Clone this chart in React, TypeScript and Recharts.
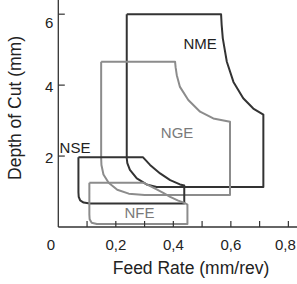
import { LineChart, Line, XAxis, YAxis, ReferenceDot } from 'recharts';

// outline vertices for each grade region (feed mm/rev, depth mm)
const nmeX = [0.238, 0.566, 0.568, 0.572, 0.586, 0.609, 0.643, 0.678, 0.713, 0.713, 0.342, 0.307, 0.273, 0.249, 0.240, 0.238, 0.238];
const nmeY = [6.0, 6.0, 5.7, 5.32, 4.66, 4.09, 3.63, 3.34, 3.17, 1.13, 1.13, 1.2, 1.37, 1.61, 1.8, 1.94, 6.0];

const ngeX = [0.149, 0.406, 0.408, 0.412, 0.423, 0.452, 0.493, 0.539, 0.597, 0.597, 0.3, 0.245, 0.205, 0.175, 0.157, 0.15, 0.149, 0.149];
const ngeY = [4.66, 4.66, 4.5, 4.28, 3.95, 3.58, 3.25, 3.06, 2.97, 0.9, 0.9, 0.94, 1.05, 1.25, 1.48, 1.75, 1.95, 4.66];

const nseX = [0.07, 0.294, 0.319, 0.354, 0.389, 0.423, 0.438, 0.438, 0.11, 0.088, 0.076, 0.071, 0.07, 0.07];
const nseY = [1.97, 1.97, 1.75, 1.51, 1.32, 1.2, 1.17, 0.66, 0.66, 0.69, 0.75, 0.85, 0.98, 1.97];

const nfeX = [0.108, 0.296, 0.318, 0.342, 0.365, 0.389, 0.415, 0.441, 0.449, 0.449, 0.134, 0.116, 0.109, 0.108, 0.108];
const nfeY = [1.25, 1.25, 1.16, 1.06, 0.96, 0.85, 0.75, 0.67, 0.63, 0.085, 0.085, 0.12, 0.22, 0.35, 1.25];

const regionNames = ['NME', 'NGE', 'NSE', 'NFE'];
const labelX = [0.493, 0.413, 0.058, 0.282];
const labelY = [5.18, 2.65, 2.25, 0.41];

const xTicks = [0, 0.1, 0.2, 0.3, 0.4, 0.5, 0.6, 0.7, 0.8];
const yTicks = [2, 4, 6];

const DARK = '#333333';
const GRAY = '#8c8c8c';
const FONT = '"Liberation Sans", Arial, sans-serif';

const toPoints = (xs: number[], ys: number[]) => xs.map((x, i) => ({ x, y: ys[i] }));

const shapes = [
  { name: 'NME', data: toPoints(nmeX, nmeY), color: DARK },
  { name: 'NGE', data: toPoints(ngeX, ngeY), color: GRAY },
  { name: 'NSE', data: toPoints(nseX, nseY), color: DARK },
  { name: 'NFE', data: toPoints(nfeX, nfeY), color: GRAY },
];

const labelColors: Record<string, string> = { NME: '#222', NGE: '#7a7a7a', NSE: '#222', NFE: '#7a7a7a' };

// ticks drawn inwards, labels only on every other x tick
const XTick = (props: any) => {
  const { x, y, payload } = props;
  const v = payload.value;
  const even = Math.round(v * 10) % 2 === 0;
  const text = v === 0 ? '0' : v.toFixed(1).replace('.', ',');
  // first and last labels sit a little off their ticks, as in the source
  const dx = v === 0 ? -7.5 : v >= 0.8 ? -3 : 0;
  return (
    <g>
      {v !== 0 && <line x1={x} y1={y} x2={x} y2={y - 6} stroke={DARK} strokeWidth={1.2} />}
      {even && (
        <text x={x + dx} y={y + 23} textAnchor="middle" fontSize={15} fontFamily={FONT} fill="#222">
          {text}
        </text>
      )}
    </g>
  );
};

const YTick = (props: any) => {
  const { x, y, payload } = props;
  const shift = payload.value === 6 ? 8 : 1;
  return (
    <g>
      <line x1={x} y1={y} x2={x + 6.5} y2={y} stroke={DARK} strokeWidth={1.2} />
      <text x={x - 5} y={y + shift + 5.5} textAnchor="end" fontSize={15} fontFamily={FONT} fill="#222">
        {payload.value}
      </text>
    </g>
  );
};

export default function App() {
  return (
    <div style={{ position: 'absolute', left: 0, top: 0, width: 297, height: 284, background: '#fff' }}>
      <LineChart width={297} height={284} margin={{ top: 0, right: 0, bottom: 0, left: 0 }}>
        <XAxis
          type="number"
          dataKey="x"
          domain={[0, 0.83]}
          ticks={xTicks}
          allowDataOverflow
          height={57}
          tickSize={0}
          tickMargin={0}
          tickLine={false}
          interval={0}
          axisLine={{ stroke: DARK, strokeWidth: 1.3 }}
          tick={<XTick />}
          label={{
            content: () => (
              <text x={191} y={274} textAnchor="middle" fontSize={17.5} fontFamily={FONT} fill="#222">
                Feed Rate (mm/rev)
              </text>
            ),
          }}
        />
        <YAxis
          type="number"
          dataKey="y"
          domain={[0, 6.4]}
          ticks={yTicks}
          allowDataOverflow
          width={58.3}
          tickSize={0}
          tickMargin={0}
          tickLine={false}
          interval={0}
          axisLine={{ stroke: DARK, strokeWidth: 1.3 }}
          tick={<YTick />}
          label={{
            content: () => (
              <text x={20.5} y={108} transform="rotate(-90 20.5 108)" textAnchor="middle" fontSize={17.5} fontFamily={FONT} fill="#222">
                Depth of Cut (mm)
              </text>
            ),
          }}
        />
        {shapes.map((s) => (
          <Line
            key={s.name}
            data={s.data}
            dataKey="y"
            type="linear"
            stroke={s.color}
            strokeWidth={2}
            dot={false}
            activeDot={false}
            isAnimationActive={false}
            strokeLinejoin="round"
          />
        ))}
        {regionNames.map((n, i) => (
          <ReferenceDot
            key={n}
            x={labelX[i]}
            y={labelY[i]}
            r={0}
            fill="none"
            stroke="none"
            label={{ value: n, position: 'center', fontSize: 15, fontFamily: FONT, fill: labelColors[n] }}
          />
        ))}
      </LineChart>
    </div>
  );
}
